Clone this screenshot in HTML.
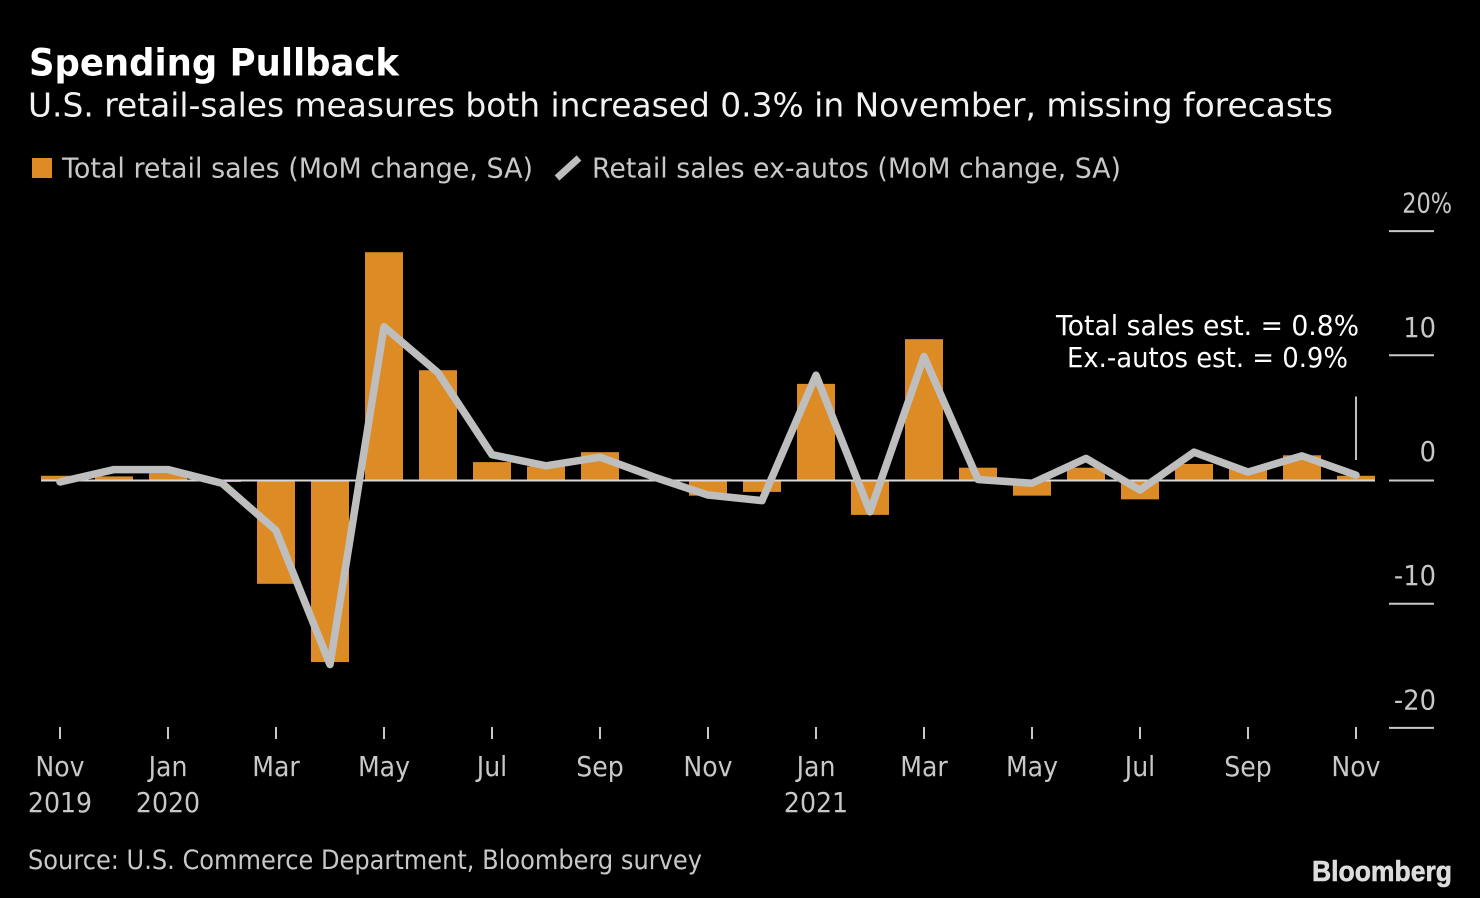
<!DOCTYPE html>
<html lang="en">
<head>
<meta charset="utf-8">
<title>Spending Pullback</title>
<style>
html,body{margin:0;padding:0;background:#000;}
svg{display:block;}
text{font-family:"DejaVu Sans","Liberation Sans",sans-serif;}
</style>
</head>
<body>
<svg id="chart" xmlns="http://www.w3.org/2000/svg" width="1480" height="898" viewBox="0 0 1480 898">
<rect width="1480" height="898" fill="#000"/>
<text x="29" y="75.5" font-size="37" font-weight="700" fill="#fff" textLength="370" lengthAdjust="spacingAndGlyphs">Spending Pullback</text>
<text x="28" y="116.5" font-size="33" fill="#f2f2f2" textLength="1305" lengthAdjust="spacingAndGlyphs">U.S. retail-sales measures both increased 0.3% in November, missing forecasts</text>
<rect x="32" y="158" width="20" height="20" fill="#dc8b25"/>
<text x="62" y="177.5" font-size="28" fill="#c8c8c8" textLength="471" lengthAdjust="spacingAndGlyphs">Total retail sales (MoM change, SA)</text>
<line x1="557" y1="178" x2="579" y2="158" stroke="#bebebe" stroke-width="7"/>
<text x="592" y="177.5" font-size="28" fill="#c8c8c8" textLength="529" lengthAdjust="spacingAndGlyphs">Retail sales ex-autos (MoM change, SA)</text>
<g id="y-axis"></g>
<g id="bars"></g>
<line id="zero" x1="41" x2="1375" stroke="#d8d8d8" stroke-width="2"/>
<polyline id="line" fill="none" stroke="#bebebe" stroke-width="7.5" stroke-linejoin="round" stroke-linecap="round"/>
<g id="x-axis"></g>
<text x="1056" y="335" font-size="28" fill="#fff" textLength="303" lengthAdjust="spacingAndGlyphs">Total sales est. = 0.8%</text>
<text x="1067" y="367" font-size="28" fill="#fff" textLength="281" lengthAdjust="spacingAndGlyphs">Ex.-autos est. = 0.9%</text>
<line x1="1356" y1="396.5" x2="1356" y2="460" stroke="#fff" stroke-width="1.5"/>
<text x="28" y="869" font-size="27" fill="#c8c8c8" textLength="674" lengthAdjust="spacingAndGlyphs">Source: U.S. Commerce Department, Bloomberg survey</text>
<text x="1312" y="881" font-size="29" font-weight="700" fill="#dcdcdc" stroke="#dcdcdc" stroke-width="0.6" style="font-family:'Liberation Sans',sans-serif" textLength="140" lengthAdjust="spacingAndGlyphs">Bloomberg</text>
</svg>
<script>
const totalSales = [0.3,0.25,0.5,-0.2,-8.4,-14.7,18.3,8.8,1.4,1.05,2.2,-0.1,-1.3,-1.0,7.7,-2.85,11.3,0.95,-1.3,0.95,-1.6,1.25,0.85,1.95,0.3];
const exAutos = [-0.2,0.8,0.8,-0.3,-4.1,-14.9,12.3,8.6,2.0,1.1,1.8,0.2,-1.25,-1.7,8.4,-2.6,9.9,0.0,-0.3,1.7,-0.85,2.2,0.6,1.9,0.35];
const monthLabels = ["Nov","Jan","Mar","May","Jul","Sep","Nov","Jan","Mar","May","Jul","Sep","Nov"];
const yearLabels = ["2019","2020","","","","","","2021","","","","",""];
const yTicks = [20,10,0,-10,-20];
const yTickLabels = ["20%","10","0","-10","-20"];

const NS = "http://www.w3.org/2000/svg";
const xScale = function (i) { return 60 + i * 54; };
const yScale = function (v) { return 479.5 - v * 12.42; };
function make(tag, attrs, parent, txt) {
  const el = document.createElementNS(NS, tag);
  for (const k in attrs) el.setAttribute(k, attrs[k]);
  if (txt !== undefined) el.textContent = txt;
  parent.appendChild(el);
  return el;
}
function condense(el, factor) {
  const natural = el.getComputedTextLength();
  el.setAttribute("textLength", natural * factor);
  el.setAttribute("lengthAdjust", "spacingAndGlyphs");
}

const barsG = document.getElementById("bars");
totalSales.forEach(function (v, i) {
  const y0 = yScale(0), y1 = yScale(v);
  const b = make("rect", {x: xScale(i) - 19, y: Math.min(y0, y1), width: 38, height: Math.abs(y1 - y0), fill: "#dc8b25"}, barsG);
  
  
});

document.getElementById("zero").setAttribute("y1", yScale(0) + 1);
document.getElementById("zero").setAttribute("y2", yScale(0) + 1);

document.getElementById("line").setAttribute("points", exAutos.map(function (v, i) {
  return xScale(i) + "," + yScale(v);
}).join(" "));

const yG = document.getElementById("y-axis");
yTicks.forEach(function (t, i) {
  const tickY = yScale(t) + (t === 0 ? 1 : 0);
  const tick = make("line", {x1: 1389, x2: 1434, y1: tickY, y2: tickY, stroke: "#c8c8c8", "stroke-width": 2}, yG);
  
  
  const hasPct = yTickLabels[i].indexOf("%") >= 0;
  const lab = make("text", {x: hasPct ? 1452 : 1436, y: yScale(t) - 18.5, "font-size": 28, fill: "#c8c8c8", "text-anchor": "end"}, yG, yTickLabels[i]);
  
  
  condense(lab, hasPct ? 0.8 : 0.92);
});

const xG = document.getElementById("x-axis");
monthLabels.forEach(function (m, i) {
  const x = xScale(i * 2);
  const tick = make("line", {x1: x, x2: x, y1: 727, y2: 739, stroke: "#c8c8c8", "stroke-width": 2}, xG);
  
  
  const lab = make("text", {x: x, y: 776, "font-size": 28, fill: "#c8c8c8", "text-anchor": "middle"}, xG, m);
  
  
  condense(lab, 0.9);
  if (yearLabels[i]) {
    const yr = make("text", {x: x, y: 812, "font-size": 28, fill: "#c8c8c8", "text-anchor": "middle"}, xG, yearLabels[i]);
    
    
    condense(yr, 0.9);
  }
});
</script>
</body>
</html>
